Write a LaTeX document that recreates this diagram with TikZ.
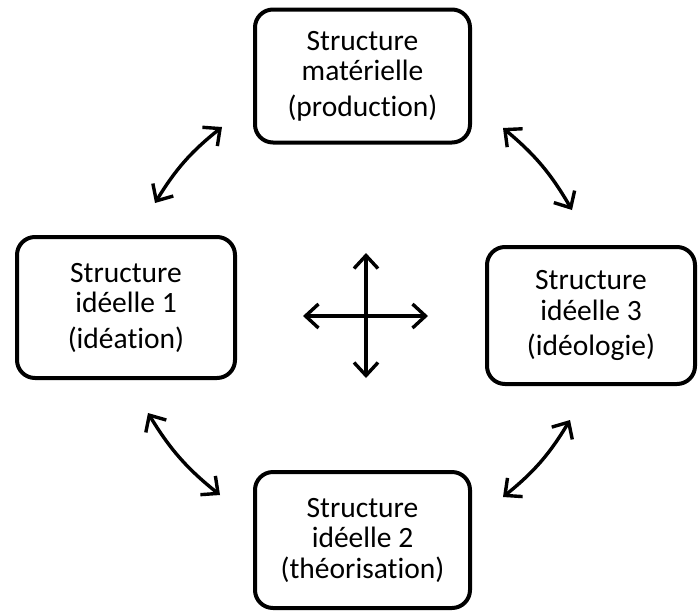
\documentclass[tikz,border=0pt]{standalone}
\usepackage{fontspec}
\setmainfont{Carlito}[Ligatures=NoCommon]
\usetikzlibrary{positioning, calc, arrows.meta}
\tikzset{
    Box/.style = {
        draw, line width=4pt, rounded corners=18pt,
        align=center, inner sep=2pt,
        font=\fontsize{29.5}{30.5}\selectfont
    },
    Arrow/.tip = {Straight Barb[length=13pt, width=24pt]},
    Arrow/.style = {
        line width=3.4pt, Arrow-Arrow
    }
}

\begin{document}
\begin{tikzpicture}[x=1pt, y=-1pt]
    \useasboundingbox (0,0) rectangle (699,614);
    \node[Box, minimum width=215pt, minimum height=133pt] (T) at (362.5,76) {Structure\\mat\'erielle\\[5pt](production)};
    \node[Box, minimum width=218pt, minimum height=141pt] (L) at (126,307.5) {Structure\\id\'eelle 1\\[5pt](id\'eation)};
    \node[Box, minimum width=208pt, minimum height=137pt] (R) at (591,315.5) {Structure\\id\'eelle 3\\[5pt](id\'eologie)};
    \node[Box, minimum width=215pt, minimum height=136pt] (B) at (362.5,540) {Structure\\id\'eelle 2\\(th\'eorisation)};
    % ends of the arrows between the boxes
    \coordinate (LT1) at (155,203);
    \coordinate (LT2) at (222,127);
    \coordinate (TR1) at (503,128);
    \coordinate (TR2) at (572,210);
    \coordinate (RB1) at (570,420);
    \coordinate (RB2) at (503,497);
    \coordinate (BL1) at (220,495);
    \coordinate (BL2) at (148,413);
    \draw [Arrow] (LT1) to [bend left=10] (LT2);
    \draw [Arrow] (TR1) to [bend left=10] (TR2);
    \draw [Arrow] (RB1) to [bend left=10] (RB2);
    \draw [Arrow] (BL1) to [bend left=10] (BL2);
    % the cross in the middle
    \coordinate (C) at (366,316);
    \coordinate (CW) at (303,316);
    \coordinate (CE) at (428,316);
    \coordinate (CN) at (366,253);
    \coordinate (CS) at (366,378);
    \draw [Arrow] (CW) to (CE);
    \draw [Arrow] (CN) to (CS);
\end{tikzpicture}
\end{document}
